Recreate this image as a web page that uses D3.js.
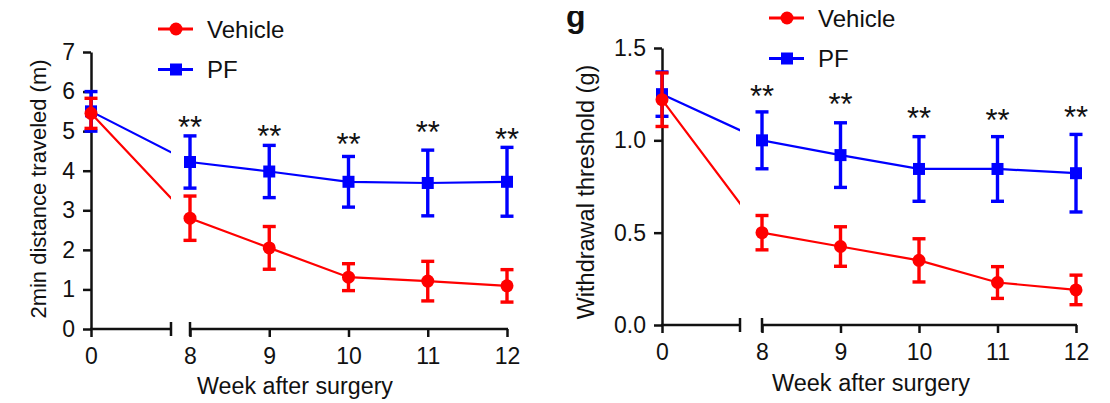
<!DOCTYPE html>
<html>
<head>
<meta charset="utf-8">
<script src="https://cdn.jsdelivr.net/npm/d3@7"></script>
<style>
  body { margin: 0; background: #fff; }
  svg { display: block; }
  text { font-family: "Liberation Sans", Arial, sans-serif; fill: #111; }
</style>
</head>
<body>
<svg id="chart" width="1110" height="403"></svg>
<script>
// weeks after surgery (0 = baseline, then 8..12)
const weeks = [0, 8, 9, 10, 11, 12];
const seriesNames = ['Vehicle', 'PF'];

// 2-min distance traveled (m), mean and SEM
const distVehicle = [5.45, 2.80, 2.05, 1.31, 1.21, 1.09];
const distVehicleErr = [0.38, 0.56, 0.54, 0.34, 0.50, 0.41];
const distPF = [5.50, 4.22, 3.98, 3.72, 3.69, 3.72];
const distPFErr = [0.50, 0.66, 0.66, 0.64, 0.83, 0.87];
const distStars = [null, 5.21, 4.98, 4.78, 5.08, 4.90];
const distTicks = [0, 1, 2, 3, 4, 5, 6, 7];

// withdrawal threshold (g), mean and SEM
const threshVehicle = [1.22, 0.50, 0.425, 0.35, 0.23, 0.19];
const threshVehicleErr = [0.145, 0.093, 0.107, 0.117, 0.086, 0.08];
const threshPF = [1.25, 1.00, 0.92, 0.845, 0.845, 0.822];
const threshPFErr = [0.12, 0.154, 0.175, 0.175, 0.175, 0.21];
const threshStars = [null, 1.26, 1.22, 1.14, 1.13, 1.15];
const threshTicks = [0, 0.5, 1.0, 1.5];

const RED = '#ff0000';
const BLUE = '#0000ff';
const FONT = '"Liberation Sans", Arial, sans-serif';

const svg = d3.select('#chart');

function drawPanel(cfg) {
  const g = svg.append('g');

  // broken x axis: 0 sits alone, 8..12 evenly spaced
  const x = d3.scaleLinear().domain([0, 8, 12]).range(cfg.xRange);
  const y = d3.scaleLinear().domain([cfg.yTicks[0], cfg.yTicks[cfg.yTicks.length - 1]]).range(cfg.yRange);
  const x0 = x(0), y0 = y(cfg.yTicks[0]);

  // y axis
  const yAxis = g.append('g')
    .attr('transform', 'translate(' + x0 + ',0)')
    .call(d3.axisLeft(y).tickValues(cfg.yTicks).tickFormat(cfg.yFormat).tickSize(8).tickSizeOuter(0).tickPadding(8));
  yAxis.select('.domain').attr('stroke', '#111').attr('stroke-width', 2.5);
  yAxis.selectAll('.tick line').attr('stroke', '#111').attr('stroke-width', 2.5);
  yAxis.selectAll('.tick text').style('font-size', '23px').attr('fill', '#111').style('font-family', FONT);

  // x axis ticks and labels
  const xAxis = g.append('g')
    .attr('transform', 'translate(0,' + y0 + ')')
    .call(d3.axisBottom(x).tickValues(weeks).tickFormat(d3.format('d')).tickSize(8).tickSizeOuter(0).tickPadding(11));
  xAxis.select('.domain').remove();
  xAxis.selectAll('.tick line').attr('stroke', '#111').attr('stroke-width', 2.5);
  xAxis.selectAll('.tick text').style('font-size', '23px').attr('fill', '#111').style('font-family', FONT);

  // the two axis pieces with break caps
  const segs = [[x0, cfg.breakEnd], [x(8), x(12)]];
  segs.forEach(s => {
    g.append('line').attr('x1', s[0] - 1).attr('x2', s[1] + 1).attr('y1', y0).attr('y2', y0)
      .attr('stroke', '#111').attr('stroke-width', 2.5);
  });
  [cfg.breakEnd, x(8)].forEach(bx => {
    g.append('line').attr('x1', bx).attr('x2', bx).attr('y1', y0 - 7).attr('y2', y0 + 7)
      .attr('stroke', '#111').attr('stroke-width', 2.5);
  });

  // titles
  g.append('text')
    .attr('x', cfg.xTitleX).attr('y', cfg.xTitleY)
    .attr('text-anchor', 'middle').style('font-size', '23px')
    .attr('textLength', cfg.xTitleLen).attr('lengthAdjust', 'spacingAndGlyphs')
    .text('Week after surgery');
  g.append('text')
    .attr('transform', 'translate(' + cfg.yTitleX + ',' + cfg.yTitleY + ') rotate(-90)')
    .attr('text-anchor', 'middle').style('font-size', cfg.yTitleSize)
    .text(cfg.yTitle);

  // clip away the gap of the broken axis
  const clipId = 'clip-' + cfg.id;
  const cp = svg.append('clipPath').attr('id', clipId);
  cp.append('rect').attr('x', 0).attr('y', 0).attr('width', cfg.breakEnd).attr('height', 403);
  cp.append('rect').attr('x', x(8)).attr('y', 0).attr('width', 1110 - x(8)).attr('height', 403);

  const line = d3.line().x(d => x(d.w)).y(d => y(d.v));

  // PF under, Vehicle on top
  const series = [
    {name: 'PF', vals: cfg.pf, errs: cfg.pfErr, color: BLUE, shape: 'square'},
    {name: 'Vehicle', vals: cfg.veh, errs: cfg.vehErr, color: RED, shape: 'circle'}
  ];

  series.forEach(s => {
    const pts = weeks.map((w, i) => ({w: w, v: s.vals[i], e: s.errs[i]}));
    g.append('path')
      .attr('clip-path', 'url(#' + clipId + ')')
      .attr('d', line(pts))
      .attr('fill', 'none').attr('stroke', s.color).attr('stroke-width', 2.2);

    const eb = g.append('g').selectAll('g').data(pts).enter().append('g')
      .attr('stroke', s.color).attr('stroke-width', 3.4);
    eb.append('line')
      .attr('x1', d => x(d.w)).attr('x2', d => x(d.w))
      .attr('y1', d => y(d.v + d.e)).attr('y2', d => y(d.v - d.e));
    eb.append('line')
      .attr('x1', d => x(d.w) - 6.5).attr('x2', d => x(d.w) + 6.5)
      .attr('y1', d => y(d.v + d.e)).attr('y2', d => y(d.v + d.e));
    eb.append('line')
      .attr('x1', d => x(d.w) - 6.5).attr('x2', d => x(d.w) + 6.5)
      .attr('y1', d => y(d.v - d.e)).attr('y2', d => y(d.v - d.e));

    if (s.shape === 'circle') {
      g.append('g').selectAll('circle').data(pts).enter().append('circle')
        .attr('cx', d => x(d.w)).attr('cy', d => y(d.v)).attr('r', 6.5)
        .attr('fill', s.color);
    } else {
      g.append('g').selectAll('rect').data(pts).enter().append('rect')
        .attr('x', d => x(d.w) - 6).attr('y', d => y(d.v) - 6)
        .attr('width', 12).attr('height', 12)
        .attr('fill', s.color);
    }
  });

  // significance marks
  g.append('g').selectAll('text')
    .data(weeks.map((w, i) => ({w: w, v: cfg.stars[i]})).filter(d => d.v !== null))
    .enter().append('text')
    .attr('x', d => x(d.w)).attr('y', d => y(d.v) + 15)
    .attr('text-anchor', 'middle').style('font-size', '31px')
    .text('**');

  // legend
  const leg = g.append('g');
  seriesNames.forEach((name, i) => {
    const ly = cfg.legendY + i * 40.5;
    const col = name === 'Vehicle' ? RED : BLUE;
    leg.append('line').attr('x1', cfg.legendX).attr('x2', cfg.legendX + 35)
      .attr('y1', ly).attr('y2', ly).attr('stroke', col).attr('stroke-width', 3);
    if (name === 'Vehicle') {
      leg.append('circle').attr('cx', cfg.legendX + 18).attr('cy', ly).attr('r', 6.5).attr('fill', col);
    } else {
      leg.append('rect').attr('x', cfg.legendX + 12).attr('y', ly - 6)
        .attr('width', 12).attr('height', 12).attr('fill', col);
    }
    leg.append('text').attr('x', cfg.legendX + 49).attr('y', ly + 8.5)
      .style('font-size', '24px').text(name);
  });
}

drawPanel({
  id: 'dist', xRange: [91, 190, 507], yRange: [329, 52], breakEnd: 171,
  yTicks: distTicks, yFormat: d3.format('d'),
  veh: distVehicle, vehErr: distVehicleErr, pf: distPF, pfErr: distPFErr, stars: distStars,
  yTitle: '2min distance traveled  (m)', yTitleX: 46, yTitleY: 189, yTitleSize: '22px',
  xTitleX: 295, xTitleY: 394, xTitleLen: 196,
  legendX: 158, legendY: 29
});

drawPanel({
  id: 'thresh', xRange: [662, 762, 1076], yRange: [325, 48], breakEnd: 740,
  yTicks: threshTicks, yFormat: d3.format('.1f'),
  veh: threshVehicle, vehErr: threshVehicleErr, pf: threshPF, pfErr: threshPFErr, stars: threshStars,
  yTitle: 'Withdrawal threshold (g)', yTitleX: 594, yTitleY: 192, yTitleSize: '23.5px',
  xTitleX: 871, xTitleY: 391, xTitleLen: 198,
  legendX: 769, legendY: 18
});

// panel letter, cropped at the top like in the source figure
svg.append('clipPath').attr('id', 'clip-letter')
  .append('rect').attr('x', 555).attr('y', 11).attr('width', 40).attr('height', 30);
svg.append('text').attr('x', 566).attr('y', 27)
  .attr('clip-path', 'url(#clip-letter)')
  .style('font-size', '32px').style('font-weight', 'bold').text('g');
</script>
</body>
</html>
